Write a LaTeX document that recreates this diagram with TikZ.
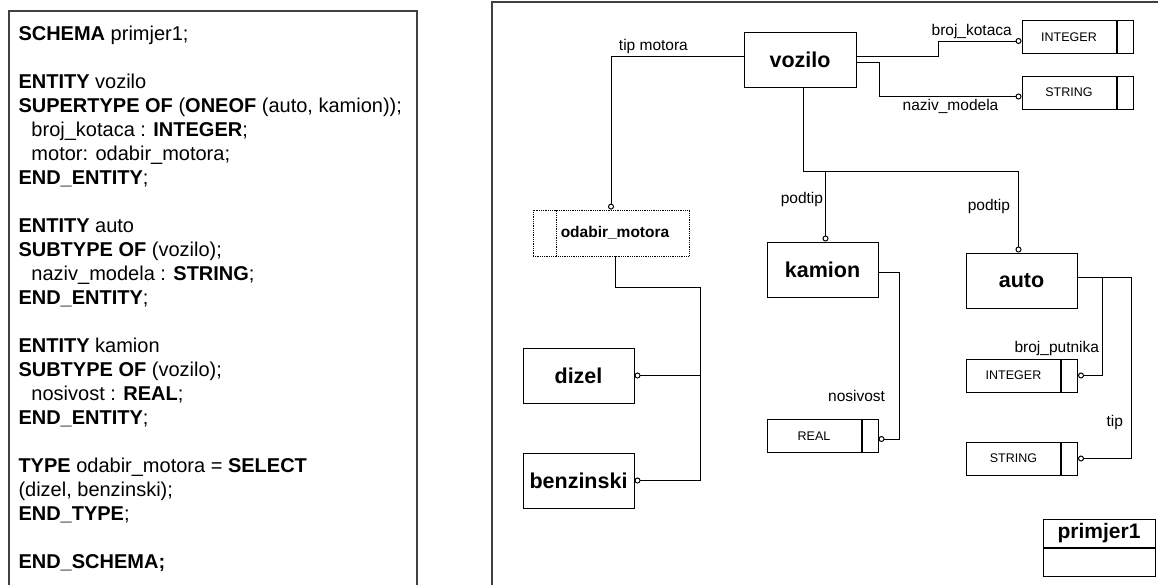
\documentclass[tikz,border=0pt]{standalone}
\usepackage{fontspec}
\setmainfont{Liberation Sans}
\usetikzlibrary{positioning,arrows.meta}

\begin{document}
\begin{tikzpicture}[x=1pt,y=-1pt,line width=1pt,
    entity/.style={draw,minimum width=111pt,minimum height=55pt,font=\fontsize{21.5}{24}\selectfont\bfseries},
    typebox/.style={draw,minimum width=94pt,minimum height=33pt,inner sep=0pt,font=\fontsize{12.5}{15}\selectfont},
    typecell/.style={draw,minimum width=16pt,minimum height=33pt,inner sep=0pt},
    rel/.style={-{Circle[open,length=6pt,width=6pt]}},
    lbl/.style={font=\fontsize{15.5}{18}\selectfont,inner sep=2pt},
    frame/.style={draw=black!75,line width=1.2pt}]
  \clip (0,0) rectangle (1158,584);

  % the two panels
  \draw[frame] (9,11) rectangle (417,600);
  \draw[frame] (492,2) rectangle (1170,600);

  % EXPRESS source
  \node[anchor=north west,inner sep=0pt,align=left,font=\fontsize{20}{24}\selectfont] (src) at (18,25) {%
    \textbf{SCHEMA} primjer1;\\[24pt]
    \textbf{ENTITY} vozilo\\
    \textbf{SUPERTYPE OF} (\textbf{ONEOF} (auto, kamion));\\
    \hspace*{13pt}broj\_kotaca : \textbf{INTEGER};\\
    \hspace*{13pt}motor: odabir\_motora;\\
    \textbf{END\_ENTITY};\\[24pt]
    \textbf{ENTITY} auto\\
    \textbf{SUBTYPE OF} (vozilo);\\
    \hspace*{13pt}naziv\_modela : \textbf{STRING};\\
    \textbf{END\_ENTITY};\\[24pt]
    \textbf{ENTITY} kamion\\
    \textbf{SUBTYPE OF} (vozilo);\\
    \hspace*{13pt}nosivost : \textbf{REAL};\\
    \textbf{END\_ENTITY};\\[24pt]
    \textbf{TYPE} odabir\_motora = \textbf{SELECT}\\
    (dizel, benzinski);\\
    \textbf{END\_TYPE};\\[24pt]
    \textbf{END\_SCHEMA;}};

  % entities
  \node[entity,minimum width=112pt] (vozilo) at (800,59.5) {vozilo};
  \node[entity] (kamion) at (822.5,269.5) {kamion};
  \node[entity] (auto) at (1021.5,280.5) {auto};
  \node[entity] (dizel) at (578.5,375.5) {dizel};
  \node[entity] (benzinski) at (578.5,480.5) {benzinski};

  % select type
  \node[draw,densely dotted,line width=.8pt,minimum width=156pt,minimum height=46pt] (odabir) at (611,233) {};
  \draw[densely dotted,line width=.8pt] ([xshift=24pt]odabir.north west) -- ([xshift=24pt]odabir.south west);
  \node[font=\fontsize{15.5}{18}\selectfont\bfseries] (odabirtxt) at ([xshift=4pt]odabir.center) {odabir\_motora};

  % simple types
  \node[typebox] (int1) at (1069,37) {INTEGER};
  \node[typecell,right=0pt of int1] (int1c) {};
  \node[typebox] (str1) at (1069,92.5) {STRING};
  \node[typecell,right=0pt of str1] (str1c) {};
  \node[typebox] (real) at (814,436) {REAL};
  \node[typecell,right=0pt of real] (realc) {};
  \node[typebox] (int2) at (1013.5,375.5) {INTEGER};
  \node[typecell,right=0pt of int2] (int2c) {};
  \node[typebox] (str2) at (1013.5,458.5) {STRING};
  \node[typecell,right=0pt of str2] (str2c) {};

  % schema
  \node[draw,minimum width=112pt,minimum height=28pt,font=\fontsize{21}{24}\selectfont\bfseries] (schema) at (1099,533) {primjer1};
  \node[draw,minimum width=112pt,minimum height=28pt,below=0pt of schema] (schemab) {};

  % attributes of vozilo
  \draw[rel] ([yshift=3pt]vozilo.west) -| node[lbl,above,pos=.34] {tip motora} (odabir.north);
  \draw[rel] ([yshift=3pt]vozilo.east) -- ++(82,0) |- node[lbl,above,pos=.7] {broj\_kotaca} ([yshift=-4pt]int1.west);
  \draw[rel] ([yshift=-3pt]vozilo.east) -- ++(23,0) |- node[lbl,below,pos=.75] {naziv\_modela} ([yshift=-4pt]str1.west);

  % subtypes
  \coordinate (fork) at (803,171);
  \coordinate (kamtop) at ([xshift=3pt]kamion.north);
  \draw[rel] ([xshift=3pt]vozilo.south) -- (fork) -| node[lbl,left=6pt,pos=.72] {podtip} ([xshift=-3pt]auto.north);
  \draw[rel] (fork -| kamtop) -- node[lbl,left,pos=.4] {podtip} (kamtop);

  % select members
  \coordinate (selbus) at (700,287);
  \draw ([xshift=4pt]odabir.south) |- (selbus);
  \draw[rel] (selbus) |- (benzinski.east);
  \draw[rel] (selbus |- dizel.east) -- (dizel.east);

  % attributes of kamion and auto
  \draw[rel] ([yshift=-3pt]kamion.east) -- ++(21,0) |- node[lbl,left=12pt,pos=.37] {nosivost} ([yshift=-3pt]realc.east);
  \draw[rel] ([yshift=3pt]auto.east) -- ++(25,0) |- node[lbl,left=1pt,pos=.36] {broj\_putnika} (int2c.east);
  \draw[rel] ([yshift=3pt]auto.east) -- ++(54,0) |- node[lbl,left=6pt,pos=.4] {tip} (str2c.east);
\end{tikzpicture}
\end{document}
